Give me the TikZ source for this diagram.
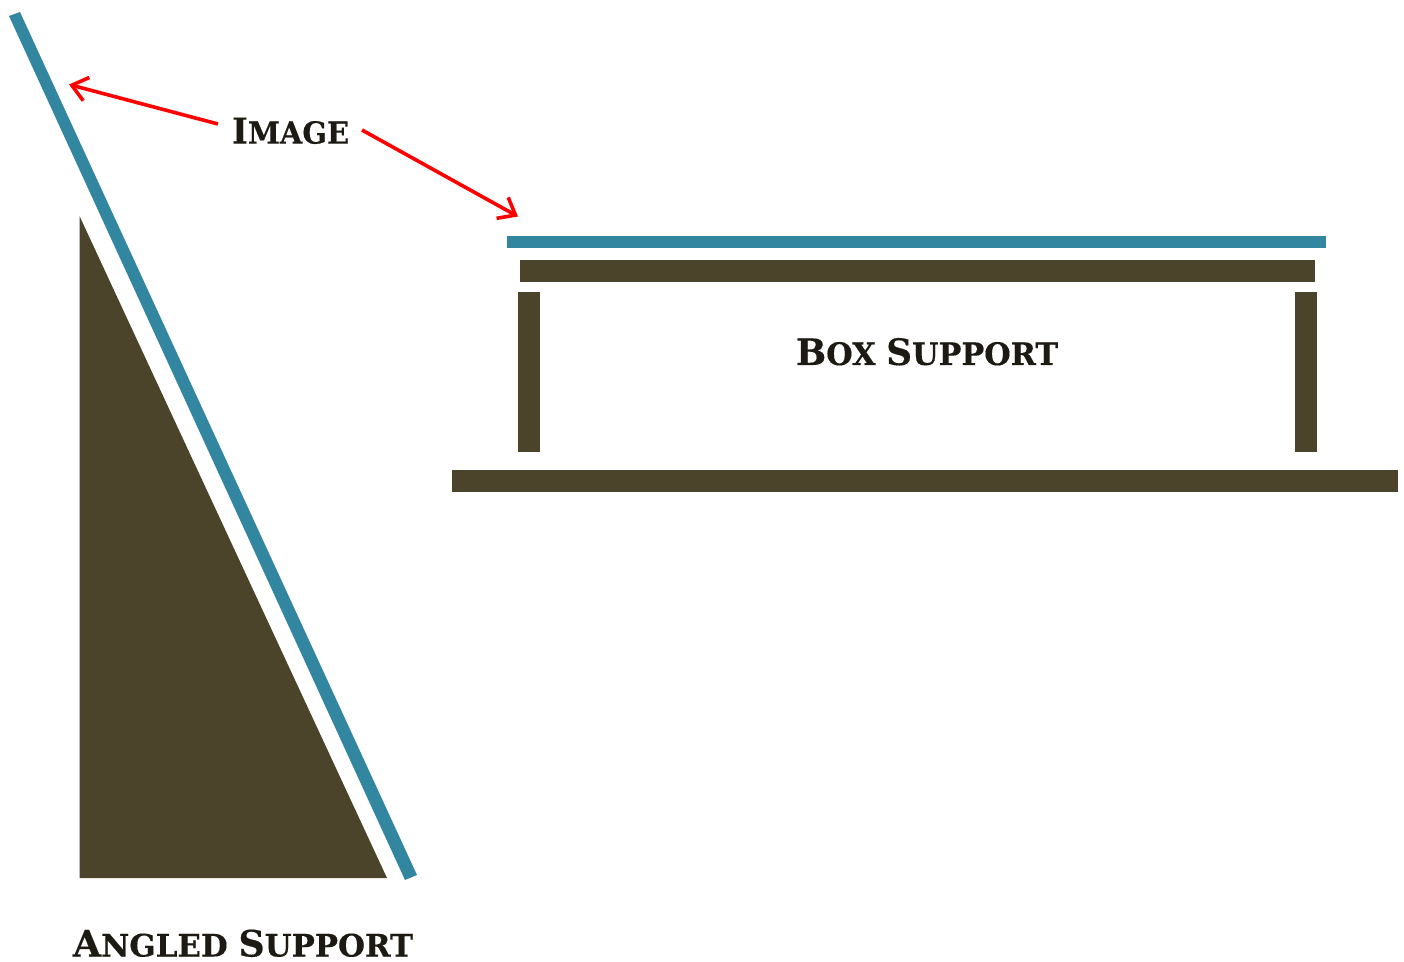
\documentclass[tikz,border=0pt]{standalone}
\usepackage{fontspec}
\usepackage{graphicx}
\setmainfont{DejaVu Serif}
\newfontfamily\lblfont[FakeBold=0.35]{DejaVu Serif Bold}
\usetikzlibrary{arrows.meta}
\definecolor{imgblue}{HTML}{33869F}
\definecolor{suppbrown}{HTML}{4B442B}
\definecolor{labelink}{HTML}{1C1A12}
\newcommand{\capsm}[2]{{\lblfont\fontsize{20}{20}\selectfont #1\fontsize{17}{17}\selectfont #2}}
\tikzset{
  imgpart/.style={fill=imgblue,draw=none},
  supp/.style={fill=suppbrown,draw=none},
  lbl/.style={anchor=south west,inner sep=0pt,outer sep=0pt,text=labelink},
  redarrow/.style={draw=red,line width=3.6pt,-{Straight Barb[length=15pt,width=24pt,line width=3.6pt]}}
}
\begin{document}
\begin{tikzpicture}[x=1pt,y=-1pt]
\useasboundingbox (0,0) rectangle (1404,961);
\fill[imgpart] (9,16) -- (20,12) -- (417,875) -- (405,880) -- cycle;
\fill[supp] (79.5,216) -- (387,878) -- (79.5,878) -- cycle;
\fill[imgpart] (507,236) rectangle (1326,248);
\fill[supp] (520,260) rectangle (1315,282);
\fill[supp] (518,292) rectangle (540,452);
\fill[supp] (1295,292) rectangle (1317,452);
\fill[supp] (452,470) rectangle (1398,492);
\node[lbl] (image) at (232,144) {\resizebox{117pt}{26pt}{\capsm{I}{MAGE}}};
\node[lbl] (box) at (796,365.5) {\resizebox{262pt}{27pt}{\capsm{B}{OX }\capsm{S}{UPPORT}}};
\node[lbl] (angled) at (73,957) {\resizebox{340pt}{27pt}{\capsm{A}{NGLED }\capsm{S}{UPPORT}}};
\coordinate (a1) at (218,124);
\coordinate (t1) at (69,84.5);
\coordinate (a2) at (362,130);
\coordinate (t2) at (518,216.5);
\draw[redarrow] (a1) -- (t1);
\draw[redarrow] (a2) -- (t2);
\end{tikzpicture}
\end{document}
